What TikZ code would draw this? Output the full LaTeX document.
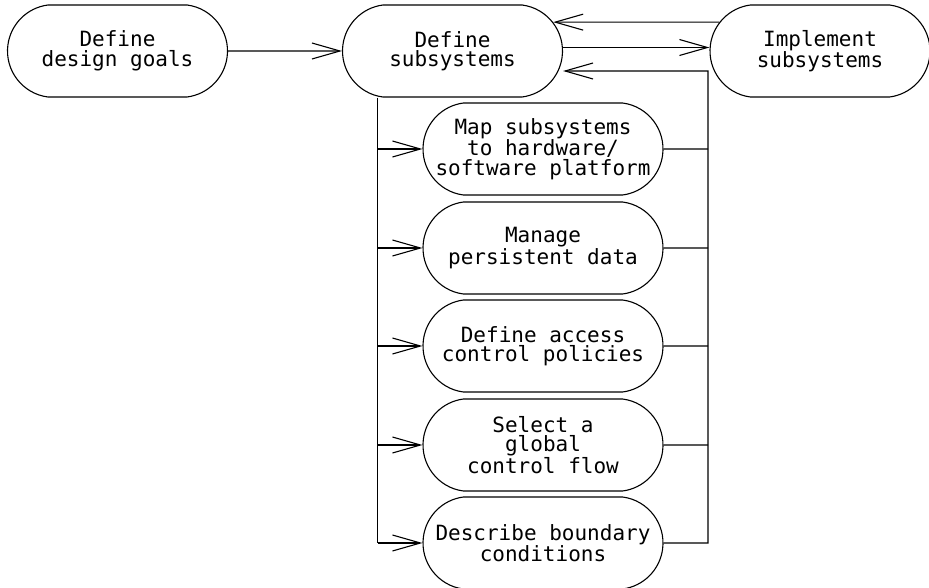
\documentclass[tikz,border=0pt]{standalone}
\usepackage{fontspec}
\setmainfont{DejaVu Sans Mono}
\usetikzlibrary{arrows.meta,shapes.misc}

\begin{document}
\begin{tikzpicture}[
  x=1pt, y=-1pt, line width=1.1pt,
  every node/.style={font=\fontsize{21}{19.5}\selectfont},
  act/.style={draw, rounded rectangle, rounded rectangle arc length=165,
    align=center, minimum width=220pt, minimum height=92pt, inner sep=0pt},
  subact/.style={act, minimum width=240pt},
  arr/.style={-{Straight Barb[length=28pt, width=16pt]}}
]
\useasboundingbox (0,0) rectangle (929,588);

\node[act] (goals) at (117.5,51) {Define\\design goals};
\node[act] (subsys) at (452.5,51) {Define\\subsystems};
\node[act] (impl) at (820,51) {Implement\\subsystems};
\node[subact] (map) at (543,149) {Map subsystems\\to hardware/\\software platform};
\node[subact] (manage) at (543,248) {Manage\\persistent data};
\node[subact] (access) at (543,346) {Define access\\control policies};
\node[subact] (select) at (543,445) {Select a\\global\\control flow};
\node[subact] (desc) at (543,543) {Describe boundary\\conditions};

\coordinate (lbus) at (377.5,0);
\coordinate (rbus) at (708,0);
\coordinate (rtop) at (708,71);

\draw[arr] (goals) -- (subsys);
\draw[arr] ([yshift=3.5pt]subsys.east) -- ([yshift=3.5pt]impl.west);
\draw[arr] (impl.164) -- (subsys.16);
\draw (lbus |- subsys.south) -- (lbus |- desc);
\foreach \n in {map,manage,access,select,desc}
  \draw[arr] (lbus |- \n) -- (\n);
\foreach \n in {map,manage,access,select}
  \draw (\n) -- (rbus |- \n);
\draw[arr] (desc) -- (rbus |- desc) -- (rtop) -- (rtop -| subsys.east);
\end{tikzpicture}
\end{document}
